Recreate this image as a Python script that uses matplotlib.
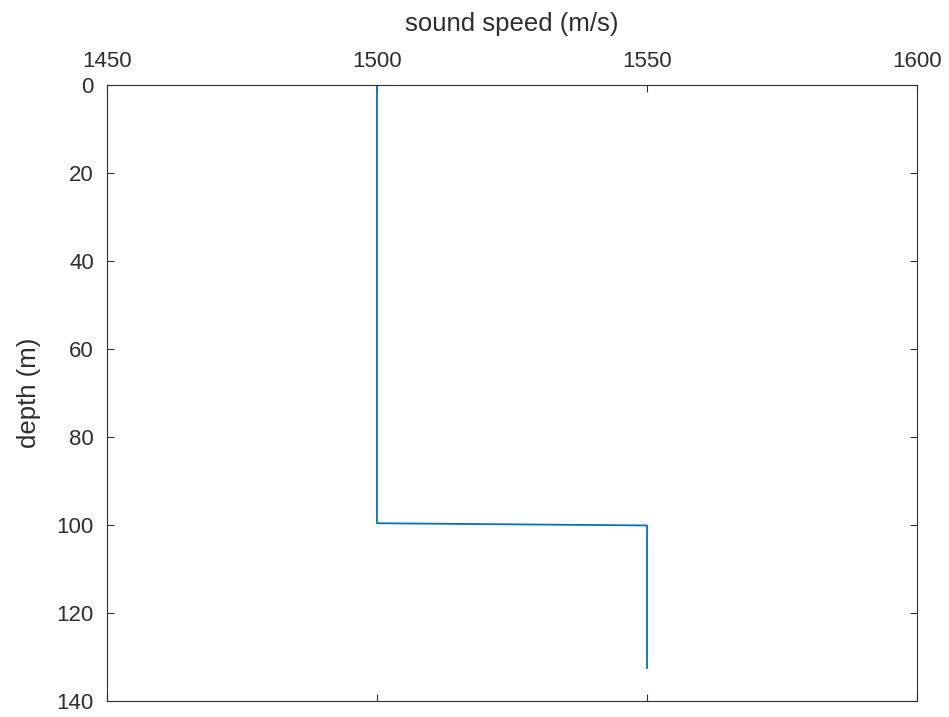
import matplotlib
matplotlib.use("Agg")
import matplotlib.pyplot as plt

# sound speed profile
speed = [1500, 1500, 1550, 1550]
depth = [0, 99.6, 100.1, 132.5]
xticks = [1450, 1500, 1550, 1600]
yticks = [0, 20, 40, 60, 80, 100, 120, 140]

plt.rcParams['font.family'] = ['Liberation Sans', 'DejaVu Sans']
grey = '#2e2e2e'

fig = plt.figure(figsize=(9.49, 7.17), dpi=100)
ax = fig.add_axes([107/949, 1 - 701/717, (917-107)/949, (701-85)/717])
ax.plot(speed, depth, color='#0072BD', linewidth=1.3)

ax.set_xlim(1450, 1600)
ax.set_ylim(140, 0)
ax.set_xticks(xticks)
ax.set_yticks(yticks)
ax.xaxis.tick_top()
ax.xaxis.set_label_position('top')
ax.tick_params(direction='in', top=True, bottom=True, left=True, right=True,
               labelsize=16, colors=grey, length=5, width=0.8, pad=9.5)
ax.set_xlabel('sound speed (m/s)', fontsize=18.5, color=grey, labelpad=14.5)
ax.set_ylabel('depth (m)', fontsize=18.5, color=grey, labelpad=11)
for s in ax.spines.values():
    s.set_color(grey)
    s.set_linewidth(0.8)

fig.savefig('out.png', dpi=100)
